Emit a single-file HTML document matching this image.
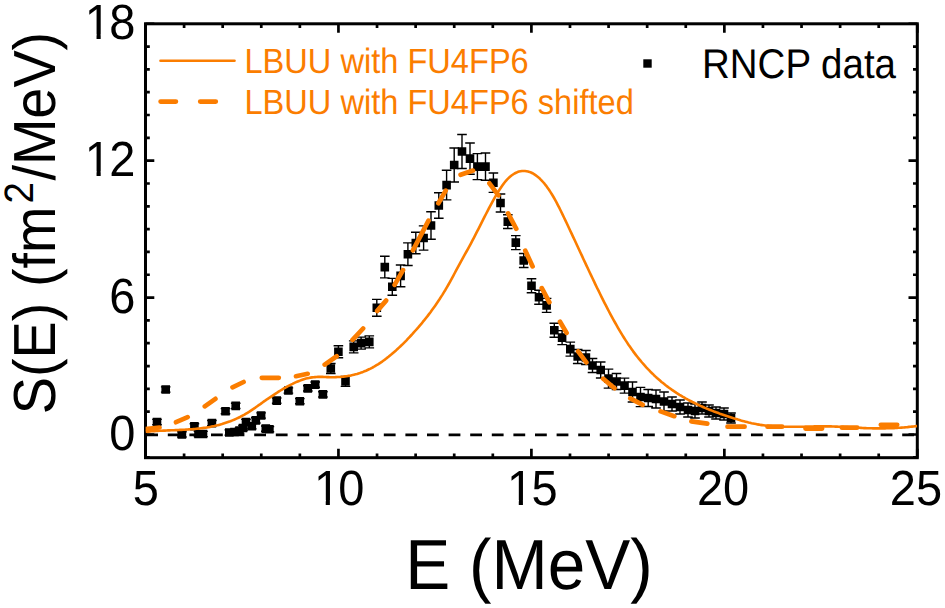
<!DOCTYPE html><html><head><meta charset="utf-8"><style>html,body{margin:0;padding:0;background:#fff;}svg{display:block;}text{font-family:"Liberation Sans",sans-serif;text-rendering:geometricPrecision;}</style></head><body>
<svg width="945" height="608" viewBox="0 0 945 608">
<line x1="146.2" y1="434.9" x2="916" y2="434.9" stroke="#000" stroke-width="2.6" stroke-dasharray="11.8 9.8"/>
<path d="M157.0,419.4V424.6M152.2,419.4H161.8M152.2,424.6H161.8M165.7,386.9V392.1M160.9,386.9H170.5M160.9,392.1H170.5M181.9,431.8V437.0M177.1,431.8H186.7M177.1,437.0H186.7M194.4,423.7V428.9M189.6,423.7H199.2M189.6,428.9H199.2M198.5,431.4V436.6M193.7,431.4H203.3M193.7,436.6H203.3M203.0,431.4V436.6M198.2,431.4H207.8M198.2,436.6H207.8M211.9,420.5V425.7M207.1,420.5H216.7M207.1,425.7H216.7M225.5,408.6V413.8M220.7,408.6H230.3M220.7,413.8H230.3M229.3,429.9V435.1M224.5,429.9H234.1M224.5,435.1H234.1M234.5,429.4V434.6M229.7,429.4H239.3M229.7,434.6H239.3M235.7,403.3V408.5M230.9,403.3H240.5M230.9,408.5H240.5M239.5,427.9V433.1M234.7,427.9H244.3M234.7,433.1H244.3M243.0,425.4V430.6M238.2,425.4H247.8M238.2,430.6H247.8M246.0,419.4V424.6M241.2,419.4H250.8M241.2,424.6H250.8M251.8,423.7V428.9M247.0,423.7H256.6M247.0,428.9H256.6M255.8,417.8V423.0M251.0,417.8H260.6M251.0,423.0H260.6M261.1,412.9V418.1M256.3,412.9H265.9M256.3,418.1H265.9M265.8,426.0V431.2M261.0,426.0H270.6M261.0,431.2H270.6M269.4,426.6V431.8M264.6,426.6H274.2M264.6,431.8H274.2M276.7,398.0V403.2M271.9,398.0H281.5M271.9,403.2H281.5M288.4,387.9V393.1M283.6,387.9H293.2M283.6,393.1H293.2M299.8,398.6V403.8M295.0,398.6H304.6M295.0,403.8H304.6M307.8,385.8V391.0M303.0,385.8H312.6M303.0,391.0H312.6M315.2,382.0V387.2M310.4,382.0H320.0M310.4,387.2H320.0M322.9,391.8V397.0M318.1,391.8H327.7M318.1,397.0H327.7M330.8,363.5V373.5M326.0,363.5H335.6M326.0,373.5H335.6M338.4,345.8V357.8M333.6,345.8H343.2M333.6,357.8H343.2M345.5,376.4V386.4M340.7,376.4H350.3M340.7,386.4H350.3M353.7,340.9V352.9M348.9,340.9H358.5M348.9,352.9H358.5M361.1,337.1V349.1M356.3,337.1H365.9M356.3,349.1H365.9M369.3,335.9V347.9M364.5,335.9H374.1M364.5,347.9H374.1M376.8,299.4V316.2M372.0,299.4H381.6M372.0,316.2H381.6M384.8,256.3V277.9M380.0,256.3H389.6M380.0,277.9H389.6M392.3,278.4V295.2M387.5,278.4H397.1M387.5,295.2H397.1M400.6,265.0V286.8M395.8,265.0H405.4M395.8,286.8H405.4M407.9,242.9V265.5M403.1,242.9H412.7M403.1,265.5H412.7M415.8,232.2V253.8M411.0,232.2H420.6M411.0,253.8H420.6M423.6,225.9V250.1M418.8,225.9H428.4M418.8,250.1H428.4M431.0,211.7V239.3M426.2,211.7H435.8M426.2,239.3H435.8M438.8,192.7V218.3M434.0,192.7H443.6M434.0,218.3H443.6M446.6,170.3V199.9M441.8,170.3H451.4M441.8,199.9H451.4M454.2,148.0V182.0M449.4,148.0H459.0M449.4,182.0H459.0M462.0,134.5V168.5M457.2,134.5H466.8M457.2,168.5H466.8M470.0,143.0V174.2M465.2,143.0H474.8M465.2,174.2H474.8M477.4,153.6V179.6M472.6,153.6H482.2M472.6,179.6H482.2M485.5,153.0V180.2M480.7,153.0H490.3M480.7,180.2H490.3M493.4,173.0V192.4M488.6,173.0H498.2M488.6,192.4H498.2M500.5,194.0V212.0M495.7,194.0H505.3M495.7,212.0H505.3M507.8,214.7V228.5M503.0,214.7H512.6M503.0,228.5H512.6M515.8,235.6V249.6M511.0,235.6H520.6M511.0,249.6H520.6M523.7,253.5V267.5M518.9,253.5H528.5M518.9,267.5H528.5M531.5,278.8V292.8M526.7,278.8H536.3M526.7,292.8H536.3M539.0,290.3V304.3M534.2,290.3H543.8M534.2,304.3H543.8M546.6,298.4V312.4M541.8,298.4H551.4M541.8,312.4H551.4M554.3,323.2V337.2M549.5,323.2H559.1M549.5,337.2H559.1M562.1,330.6V344.6M557.3,330.6H566.9M557.3,344.6H566.9M570.3,342.1V356.1M565.5,342.1H575.1M565.5,356.1H575.1M577.7,349.5V363.5M572.9,349.5H582.5M572.9,363.5H582.5M585.9,350.5V364.5M581.1,350.5H590.7M581.1,364.5H590.7M592.5,358.5V372.5M587.7,358.5H597.3M587.7,372.5H597.3M600.7,362.0V378.0M595.9,362.0H605.5M595.9,378.0H605.5M608.5,369.1V388.1M603.7,369.1H613.3M603.7,388.1H613.3M616.5,373.5V389.5M611.7,373.5H621.3M611.7,389.5H621.3M624.5,378.1V393.1M619.7,378.1H629.3M619.7,393.1H629.3M632.5,382.0V402.0M627.7,382.0H637.3M627.7,402.0H637.3M640.5,387.4V406.6M635.7,387.4H645.3M635.7,406.6H645.3M648.2,389.5V406.5M643.4,389.5H653.0M643.4,406.5H653.0M656.0,390.0V408.0M651.2,390.0H660.8M651.2,408.0H660.8M664.0,392.0V411.0M659.2,392.0H668.8M659.2,411.0H668.8M672.0,397.0V411.0M667.2,397.0H676.8M667.2,411.0H676.8M680.0,400.0V414.0M675.2,400.0H684.8M675.2,414.0H684.8M688.0,403.0V417.0M683.2,403.0H692.8M683.2,417.0H692.8M695.0,404.0V418.0M690.2,404.0H699.8M690.2,418.0H699.8M702.0,402.0V414.0M697.2,402.0H706.8M697.2,414.0H706.8M709.0,405.0V417.0M704.2,405.0H713.8M704.2,417.0H713.8M716.0,407.0V419.0M711.2,407.0H720.8M711.2,419.0H720.8M724.0,408.0V420.0M719.2,408.0H728.8M719.2,420.0H728.8M731.0,413.0V423.0M726.2,413.0H735.8M726.2,423.0H735.8" fill="none" stroke="#000" stroke-width="1.4"/>
<path d="M152.7,417.7h8.6v8.6h-8.6zM161.4,385.2h8.6v8.6h-8.6zM177.6,430.1h8.6v8.6h-8.6zM190.1,422.0h8.6v8.6h-8.6zM194.2,429.7h8.6v8.6h-8.6zM198.7,429.7h8.6v8.6h-8.6zM207.6,418.8h8.6v8.6h-8.6zM221.2,406.9h8.6v8.6h-8.6zM225.0,428.2h8.6v8.6h-8.6zM230.2,427.7h8.6v8.6h-8.6zM231.4,401.6h8.6v8.6h-8.6zM235.2,426.2h8.6v8.6h-8.6zM238.7,423.7h8.6v8.6h-8.6zM241.7,417.7h8.6v8.6h-8.6zM247.5,422.0h8.6v8.6h-8.6zM251.5,416.1h8.6v8.6h-8.6zM256.8,411.2h8.6v8.6h-8.6zM261.5,424.3h8.6v8.6h-8.6zM265.1,424.9h8.6v8.6h-8.6zM272.4,396.3h8.6v8.6h-8.6zM284.1,386.2h8.6v8.6h-8.6zM295.5,396.9h8.6v8.6h-8.6zM303.5,384.1h8.6v8.6h-8.6zM310.9,380.3h8.6v8.6h-8.6zM318.6,390.1h8.6v8.6h-8.6zM326.5,364.2h8.6v8.6h-8.6zM334.1,347.5h8.6v8.6h-8.6zM341.2,377.1h8.6v8.6h-8.6zM349.4,342.6h8.6v8.6h-8.6zM356.8,338.8h8.6v8.6h-8.6zM365.0,337.6h8.6v8.6h-8.6zM372.5,303.5h8.6v8.6h-8.6zM380.5,262.8h8.6v8.6h-8.6zM388.0,282.5h8.6v8.6h-8.6zM396.3,271.6h8.6v8.6h-8.6zM403.6,249.9h8.6v8.6h-8.6zM411.5,238.7h8.6v8.6h-8.6zM419.3,233.7h8.6v8.6h-8.6zM426.7,221.2h8.6v8.6h-8.6zM434.5,201.2h8.6v8.6h-8.6zM442.3,180.8h8.6v8.6h-8.6zM449.9,160.7h8.6v8.6h-8.6zM457.7,147.2h8.6v8.6h-8.6zM465.7,154.3h8.6v8.6h-8.6zM473.1,162.3h8.6v8.6h-8.6zM481.2,162.3h8.6v8.6h-8.6zM489.1,178.4h8.6v8.6h-8.6zM496.2,198.7h8.6v8.6h-8.6zM503.5,217.3h8.6v8.6h-8.6zM511.5,238.3h8.6v8.6h-8.6zM519.4,256.2h8.6v8.6h-8.6zM527.2,281.5h8.6v8.6h-8.6zM534.7,293.0h8.6v8.6h-8.6zM542.3,301.1h8.6v8.6h-8.6zM550.0,325.9h8.6v8.6h-8.6zM557.8,333.3h8.6v8.6h-8.6zM566.0,344.8h8.6v8.6h-8.6zM573.4,352.2h8.6v8.6h-8.6zM581.6,353.2h8.6v8.6h-8.6zM588.2,361.2h8.6v8.6h-8.6zM596.4,365.7h8.6v8.6h-8.6zM604.2,374.3h8.6v8.6h-8.6zM612.2,377.2h8.6v8.6h-8.6zM620.2,381.3h8.6v8.6h-8.6zM628.2,387.7h8.6v8.6h-8.6zM636.2,392.7h8.6v8.6h-8.6zM643.9,393.7h8.6v8.6h-8.6zM651.7,394.7h8.6v8.6h-8.6zM659.7,397.2h8.6v8.6h-8.6zM667.7,399.7h8.6v8.6h-8.6zM675.7,402.7h8.6v8.6h-8.6zM683.7,405.7h8.6v8.6h-8.6zM690.7,406.7h8.6v8.6h-8.6zM697.7,403.7h8.6v8.6h-8.6zM704.7,406.7h8.6v8.6h-8.6zM711.7,408.7h8.6v8.6h-8.6zM719.7,409.7h8.6v8.6h-8.6zM726.7,413.7h8.6v8.6h-8.6z" fill="#000"/>
<path d="M145.50,457.7V448.70M145.50,23.8V32.80M184.09,457.7V453.50M184.09,23.8V28.00M222.68,457.7V453.50M222.68,23.8V28.00M261.27,457.7V453.50M261.27,23.8V28.00M299.86,457.7V453.50M299.86,23.8V28.00M338.45,457.7V448.70M338.45,23.8V32.80M377.04,457.7V453.50M377.04,23.8V28.00M415.63,457.7V453.50M415.63,23.8V28.00M454.22,457.7V453.50M454.22,23.8V28.00M492.81,457.7V453.50M492.81,23.8V28.00M531.40,457.7V448.70M531.40,23.8V32.80M569.99,457.7V453.50M569.99,23.8V28.00M608.58,457.7V453.50M608.58,23.8V28.00M647.17,457.7V453.50M647.17,23.8V28.00M685.76,457.7V453.50M685.76,23.8V28.00M724.35,457.7V448.70M724.35,23.8V32.80M762.94,457.7V453.50M762.94,23.8V28.00M801.53,457.7V453.50M801.53,23.8V28.00M840.12,457.7V453.50M840.12,23.8V28.00M878.71,457.7V453.50M878.71,23.8V28.00M917.30,457.7V448.70M917.30,23.8V32.80M145.5,457.32H149.80M917.3,457.32H913.00M145.5,434.50H154.30M917.3,434.50H908.50M145.5,411.68H149.80M917.3,411.68H913.00M145.5,388.86H149.80M917.3,388.86H913.00M145.5,366.04H149.80M917.3,366.04H913.00M145.5,343.22H149.80M917.3,343.22H913.00M145.5,320.40H149.80M917.3,320.40H913.00M145.5,297.58H154.30M917.3,297.58H908.50M145.5,274.76H149.80M917.3,274.76H913.00M145.5,251.94H149.80M917.3,251.94H913.00M145.5,229.12H149.80M917.3,229.12H913.00M145.5,206.30H149.80M917.3,206.30H913.00M145.5,183.48H149.80M917.3,183.48H913.00M145.5,160.66H154.30M917.3,160.66H908.50M145.5,137.84H149.80M917.3,137.84H913.00M145.5,115.02H149.80M917.3,115.02H913.00M145.5,92.20H149.80M917.3,92.20H913.00M145.5,69.38H149.80M917.3,69.38H913.00M145.5,46.56H149.80M917.3,46.56H913.00M145.5,23.74H154.30M917.3,23.74H908.50" stroke="#000" stroke-width="2.7" fill="none"/>
<rect x="145.5" y="23.8" width="771.8" height="433.9" fill="none" stroke="#000" stroke-width="3"/>
<defs><clipPath id="pc"><rect x="145.6" y="23.8" width="771.6" height="433.9"/></clipPath></defs><g clip-path="url(#pc)">
<path d="M145.5,431.8 L147.0,431.7 L148.5,431.6 L150.0,431.4 L151.5,431.3 L153.0,431.2 L154.5,431.1 L156.0,431.0 L157.5,430.9 L159.0,430.8 L160.5,430.8 L162.0,430.7 L163.5,430.6 L165.0,430.6 L166.5,430.5 L168.0,430.4 L169.5,430.4 L171.0,430.3 L172.5,430.3 L174.0,430.2 L175.5,430.1 L177.0,430.1 L178.5,430.0 L180.0,429.9 L181.5,429.9 L183.0,429.8 L184.5,429.7 L186.0,429.6 L187.5,429.5 L189.0,429.4 L190.5,429.3 L192.0,429.2 L193.5,429.1 L195.0,429.0 L196.5,428.8 L198.0,428.6 L199.5,428.5 L201.0,428.3 L202.5,428.1 L204.0,427.9 L205.5,427.7 L207.0,427.4 L208.5,427.2 L210.0,426.9 L211.5,426.6 L213.0,426.3 L214.5,426.0 L216.0,425.6 L217.5,425.3 L219.0,424.9 L220.5,424.5 L222.0,424.1 L223.5,423.6 L225.0,423.1 L226.5,422.6 L228.0,422.1 L229.5,421.6 L231.0,421.0 L232.5,420.4 L234.0,419.8 L235.5,419.1 L237.0,418.4 L238.5,417.7 L240.0,417.0 L241.5,416.2 L243.0,415.4 L244.5,414.6 L246.0,413.7 L247.5,412.8 L249.0,411.9 L250.5,410.9 L252.0,409.9 L253.5,408.9 L255.0,407.9 L256.5,406.8 L258.0,405.7 L259.5,404.7 L261.0,403.6 L262.5,402.5 L264.0,401.4 L265.5,400.4 L267.0,399.3 L268.5,398.3 L270.0,397.3 L271.5,396.3 L273.0,395.3 L274.5,394.3 L276.0,393.3 L277.5,392.4 L279.0,391.4 L280.5,390.5 L282.0,389.6 L283.5,388.7 L285.0,387.9 L286.5,387.0 L288.0,386.2 L289.5,385.4 L291.0,384.6 L292.5,383.9 L294.0,383.1 L295.5,382.4 L297.0,381.8 L298.5,381.2 L300.0,380.6 L301.5,380.0 L303.0,379.5 L304.5,379.0 L306.0,378.6 L307.5,378.2 L309.0,377.9 L310.5,377.6 L312.0,377.4 L313.5,377.2 L315.0,377.1 L316.5,377.0 L318.0,376.9 L319.5,376.9 L321.0,376.9 L322.5,376.9 L324.0,377.0 L325.5,377.0 L327.0,377.1 L328.5,377.1 L330.0,377.2 L331.5,377.2 L333.0,377.2 L334.5,377.2 L336.0,377.1 L337.5,377.0 L339.0,377.0 L340.5,376.9 L342.0,376.7 L343.5,376.6 L345.0,376.4 L346.5,376.2 L348.0,375.9 L349.5,375.7 L351.0,375.4 L352.5,375.1 L354.0,374.7 L355.5,374.3 L357.0,373.9 L358.5,373.4 L360.0,373.0 L361.5,372.4 L363.0,371.9 L364.5,371.3 L366.0,370.7 L367.5,370.0 L369.0,369.3 L370.5,368.6 L372.0,367.8 L373.5,367.0 L375.0,366.1 L376.5,365.2 L378.0,364.3 L379.5,363.3 L381.0,362.3 L382.5,361.3 L384.0,360.2 L385.5,359.1 L387.0,357.9 L388.5,356.8 L390.0,355.5 L391.5,354.3 L393.0,353.0 L394.5,351.7 L396.0,350.4 L397.5,349.0 L399.0,347.6 L400.5,346.2 L402.0,344.8 L403.5,343.3 L405.0,341.8 L406.5,340.3 L408.0,338.7 L409.5,337.1 L411.0,335.5 L412.5,333.9 L414.0,332.2 L415.5,330.5 L417.0,328.8 L418.5,327.1 L420.0,325.3 L421.5,323.6 L423.0,321.7 L424.5,319.9 L426.0,318.0 L427.5,316.1 L429.0,314.1 L430.5,312.2 L432.0,310.1 L433.5,308.0 L435.0,305.9 L436.5,303.7 L438.0,301.5 L439.5,299.3 L441.0,296.9 L442.5,294.6 L444.0,292.1 L445.5,289.7 L447.0,287.1 L448.5,284.5 L450.0,281.8 L451.5,279.1 L453.0,276.3 L454.5,273.5 L456.0,270.7 L457.5,267.9 L459.0,265.1 L460.5,262.3 L462.0,259.6 L463.5,256.9 L465.0,254.2 L466.5,251.5 L468.0,248.8 L469.5,246.1 L471.0,243.3 L472.5,240.4 L474.0,237.6 L475.5,234.7 L477.0,231.7 L478.5,228.8 L480.0,225.8 L481.5,222.8 L483.0,219.9 L484.5,216.9 L486.0,214.0 L487.5,211.1 L489.0,208.2 L490.5,205.4 L492.0,202.6 L493.5,199.9 L495.0,197.2 L496.5,194.7 L498.0,192.2 L499.5,189.8 L501.0,187.5 L502.5,185.3 L504.0,183.2 L505.5,181.3 L507.0,179.6 L508.5,178.1 L510.0,176.7 L511.5,175.5 L513.0,174.5 L514.5,173.5 L516.0,172.8 L517.5,172.1 L519.0,171.6 L520.5,171.3 L522.0,171.0 L523.5,171.0 L525.0,171.0 L526.5,171.2 L528.0,171.5 L529.5,171.9 L531.0,172.5 L532.5,173.2 L534.0,174.1 L535.5,175.1 L537.0,176.2 L538.5,177.4 L540.0,178.8 L541.5,180.3 L543.0,182.0 L544.5,183.7 L546.0,185.6 L547.5,187.7 L549.0,189.8 L550.5,192.1 L552.0,194.5 L553.5,197.0 L555.0,199.7 L556.5,202.4 L558.0,205.3 L559.5,208.2 L561.0,211.3 L562.5,214.4 L564.0,217.5 L565.5,220.6 L567.0,223.8 L568.5,227.0 L570.0,230.2 L571.5,233.4 L573.0,236.6 L574.5,239.8 L576.0,243.0 L577.5,246.3 L579.0,249.5 L580.5,252.7 L582.0,255.9 L583.5,259.2 L585.0,262.4 L586.5,265.6 L588.0,268.8 L589.5,272.0 L591.0,275.1 L592.5,278.3 L594.0,281.4 L595.5,284.6 L597.0,287.7 L598.5,290.7 L600.0,293.8 L601.5,296.8 L603.0,299.8 L604.5,302.8 L606.0,305.7 L607.5,308.6 L609.0,311.5 L610.5,314.3 L612.0,317.1 L613.5,319.8 L615.0,322.5 L616.5,325.2 L618.0,327.8 L619.5,330.4 L621.0,332.9 L622.5,335.4 L624.0,337.8 L625.5,340.1 L627.0,342.4 L628.5,344.7 L630.0,346.8 L631.5,349.0 L633.0,351.1 L634.5,353.1 L636.0,355.1 L637.5,357.0 L639.0,358.9 L640.5,360.7 L642.0,362.5 L643.5,364.2 L645.0,365.9 L646.5,367.6 L648.0,369.2 L649.5,370.7 L651.0,372.3 L652.5,373.7 L654.0,375.2 L655.5,376.6 L657.0,378.0 L658.5,379.3 L660.0,380.6 L661.5,381.9 L663.0,383.1 L664.5,384.3 L666.0,385.5 L667.5,386.6 L669.0,387.7 L670.5,388.8 L672.0,389.9 L673.5,390.9 L675.0,391.9 L676.5,392.9 L678.0,393.8 L679.5,394.8 L681.0,395.7 L682.5,396.6 L684.0,397.4 L685.5,398.3 L687.0,399.1 L688.5,400.0 L690.0,400.8 L691.5,401.5 L693.0,402.3 L694.5,403.0 L696.0,403.8 L697.5,404.5 L699.0,405.2 L700.5,405.9 L702.0,406.5 L703.5,407.2 L705.0,407.9 L706.5,408.5 L708.0,409.1 L709.5,409.7 L711.0,410.3 L712.5,410.9 L714.0,411.5 L715.5,412.0 L717.0,412.6 L718.5,413.1 L720.0,413.7 L721.5,414.2 L723.0,414.7 L724.5,415.2 L726.0,415.7 L727.5,416.2 L729.0,416.7 L730.5,417.2 L732.0,417.7 L733.5,418.2 L735.0,418.7 L736.5,419.1 L738.0,419.6 L739.5,420.0 L741.0,420.5 L742.5,420.9 L744.0,421.3 L745.5,421.7 L747.0,422.1 L748.5,422.5 L750.0,422.8 L751.5,423.2 L753.0,423.5 L754.5,423.8 L756.0,424.1 L757.5,424.4 L759.0,424.6 L760.5,424.9 L762.0,425.1 L763.5,425.3 L765.0,425.5 L766.5,425.7 L768.0,425.8 L769.5,426.0 L771.0,426.1 L772.5,426.2 L774.0,426.3 L775.5,426.4 L777.0,426.5 L778.5,426.6 L780.0,426.6 L781.5,426.7 L783.0,426.7 L784.5,426.7 L786.0,426.8 L787.5,426.8 L789.0,426.8 L790.5,426.8 L792.0,426.8 L793.5,426.8 L795.0,426.8 L796.5,426.8 L798.0,426.8 L799.5,426.7 L801.0,426.7 L802.5,426.7 L804.0,426.7 L805.5,426.6 L807.0,426.6 L808.5,426.6 L810.0,426.5 L811.5,426.5 L813.0,426.5 L814.5,426.4 L816.0,426.4 L817.5,426.4 L819.0,426.4 L820.5,426.4 L822.0,426.4 L823.5,426.4 L825.0,426.4 L826.5,426.4 L828.0,426.4 L829.5,426.4 L831.0,426.4 L832.5,426.5 L834.0,426.5 L835.5,426.6 L837.0,426.6 L838.5,426.7 L840.0,426.7 L841.5,426.8 L843.0,426.9 L844.5,427.0 L846.0,427.1 L847.5,427.1 L849.0,427.2 L850.5,427.3 L852.0,427.4 L853.5,427.5 L855.0,427.6 L856.5,427.7 L858.0,427.8 L859.5,427.8 L861.0,427.9 L862.5,428.0 L864.0,428.1 L865.5,428.1 L867.0,428.2 L868.5,428.3 L870.0,428.3 L871.5,428.3 L873.0,428.4 L874.5,428.4 L876.0,428.4 L877.5,428.4 L879.0,428.4 L880.5,428.4 L882.0,428.4 L883.5,428.4 L885.0,428.4 L886.5,428.3 L888.0,428.3 L889.5,428.2 L891.0,428.2 L892.5,428.1 L894.0,428.1 L895.5,428.0 L897.0,427.9 L898.5,427.8 L900.0,427.7 L901.5,427.6 L903.0,427.5 L904.5,427.4 L906.0,427.2 L907.5,427.1 L909.0,426.9 L910.5,426.8 L912.0,426.6 L913.5,426.5 L915.0,426.3 L916.5,426.1 L917.3,426.0" fill="none" stroke="#fb7d00" stroke-width="2.6" stroke-linejoin="round"/>
<path d="M143.0,429.3L159.5,427.5M176.0,422.2L187.7,417.1M204.8,406.3L215.4,398.8M232.5,387.3L243.6,382.0M261.8,377.8L278.8,377.8M296.0,376.2L307.7,373.8M324.7,364.6L336.7,356.3M352.5,339.8L363.1,328.5M377.2,310.9L386.1,300.6M394.6,284.9L403.0,270.1M412.9,250.3L428.5,220.6M438.4,203.2L445.7,190.6M460.6,174.8L473.0,170.6M489.4,183.3L498.4,195.3M508.1,213.4L516.3,228.8M525.3,250.7L532.6,266.4M541.8,288.1L549.4,302.3M560.0,321.7L566.6,332.9M578.1,351.3L586.3,362.4M603.2,378.8L614.5,388.3M630.3,398.4L642.7,404.9M660.6,411.4L674.3,416.2M691.4,421.4L707.3,423.6M727.5,426.7L744.6,426.7M767.5,426.7L782.1,426.7M805.5,428.6L822.1,428.6M841.8,427.6L857.2,427.6M880.8,424.8L897.2,424.8" fill="none" stroke="#fb7d00" stroke-width="4.7" stroke-linecap="round"/>
</g>
<text transform="translate(132.73,504.50) scale(1,1.0500)" font-size="47">5</text>
<text transform="translate(312.21,504.50) scale(1,1.0500)" font-size="47"><tspan dx="1.70">1</tspan><tspan dx="-1.70">0</tspan></text>
<text transform="translate(505.26,504.50) scale(1,1.0500)" font-size="47"><tspan dx="1.70">1</tspan><tspan dx="-1.70">5</tspan></text>
<text transform="translate(696.91,504.50) scale(1,1.0500)" font-size="47">20</text>
<text transform="translate(889.76,504.50) scale(1,1.0500)" font-size="47">25</text>
<text transform="translate(109.16,449.70) scale(1,1.0500)" font-size="47">0</text>
<text transform="translate(109.16,312.78) scale(1,1.0500)" font-size="47">6</text>
<text transform="translate(83.02,175.86) scale(1,1.0500)" font-size="47"><tspan dx="1.70">1</tspan><tspan dx="-1.70">2</tspan></text>
<text transform="translate(83.02,38.94) scale(1,1.0500)" font-size="47"><tspan dx="1.70">1</tspan><tspan dx="-1.70">8</tspan></text>
<rect x="316.44" y="500.04" width="9.29" height="5.96" fill="#fff"/>
<rect x="329.88" y="500.04" width="8.81" height="5.96" fill="#fff"/>
<rect x="509.49" y="500.04" width="9.29" height="5.96" fill="#fff"/>
<rect x="522.93" y="500.04" width="8.81" height="5.96" fill="#fff"/>
<rect x="87.25" y="171.40" width="9.29" height="5.96" fill="#fff"/>
<rect x="100.69" y="171.40" width="8.81" height="5.96" fill="#fff"/>
<rect x="87.25" y="34.48" width="9.29" height="5.96" fill="#fff"/>
<rect x="100.69" y="34.48" width="8.81" height="5.96" fill="#fff"/>
<text transform="translate(405.24,589.00) scale(1,1.0530)" font-size="67.5">E (MeV)</text>
<text transform="translate(54.6,414.2) rotate(-90) scale(1,1.0650)" font-size="55.8">S(E) (fm<tspan x="210.67" y="-20.19" font-size="38.5">2</tspan><tspan x="233.58" y="0">/MeV)</tspan></text>
<line x1="160.5" y1="60.7" x2="234.5" y2="60.7" stroke="#fb7d00" stroke-width="2.6" stroke-linecap="round"/>
<path d="M160.6,101.6H175.9M200.2,101.6H215.8" stroke="#fb7d00" stroke-width="4.7" stroke-linecap="round"/>
<text transform="translate(244.50,72.70) scale(1,1.0750)" font-size="32.6" fill="#fb7d00">LBUU with FU4FP6</text>
<text transform="translate(244.50,113.50) scale(1,1.0750)" font-size="32.6" fill="#fb7d00">LBUU with FU4FP6 shifted</text>
<rect x="643.3" y="59.3" width="8.4" height="8.4" fill="#000"/>
<text transform="translate(702.00,77.70) scale(1,1.0750)" font-size="38.5">RNCP data</text>
</svg></body></html>
